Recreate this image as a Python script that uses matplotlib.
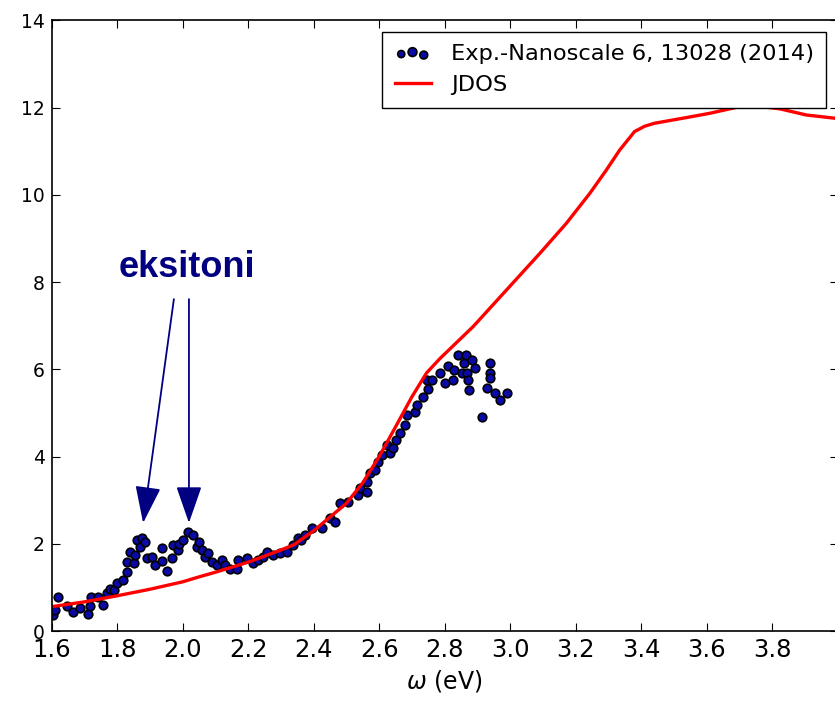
import matplotlib
matplotlib.use("Agg")
import matplotlib.pyplot as plt
from matplotlib.legend_handler import HandlerPathCollection

exp_x = [1.604, 1.61, 1.62, 1.647, 1.665, 1.686, 1.71, 1.717, 1.72, 1.74, 1.756, 1.768,
         1.778, 1.79, 1.80, 1.818, 1.83, 1.83, 1.84, 1.85, 1.855, 1.86, 1.87, 1.875,
         1.885, 1.89, 1.906, 1.916, 1.937, 1.937, 1.952, 1.967, 1.971, 1.986, 1.99,
         2.0, 2.017, 2.03, 2.044, 2.05, 2.058, 2.068, 2.078, 2.09, 2.105, 2.12, 2.13,
         2.145, 2.166, 2.17, 2.196, 2.215, 2.23, 2.245, 2.257, 2.276, 2.297, 2.318,
         2.337, 2.353, 2.36, 2.374, 2.395, 2.425, 2.45, 2.465, 2.48, 2.505, 2.536,
         2.54, 2.563, 2.563, 2.572, 2.587, 2.597, 2.608, 2.623, 2.633, 2.642, 2.65,
         2.663, 2.68, 2.685, 2.71, 2.716, 2.734, 2.75, 2.745, 2.762, 2.786, 2.8, 2.81,
         2.826, 2.83, 2.84, 2.852, 2.86, 2.865, 2.868, 2.872, 2.875, 2.883, 2.892,
         2.914, 2.93, 2.94, 2.94, 2.94, 2.954, 2.97, 2.99]
exp_y = [0.37, 0.48, 0.78, 0.57, 0.44, 0.53, 0.39, 0.57, 0.78, 0.78, 0.60, 0.87,
         0.96, 0.94, 1.10, 1.17, 1.35, 1.58, 1.81, 1.56, 1.74, 2.09, 1.93, 2.13,
         2.04, 1.67, 1.70, 1.51, 1.90, 1.60, 1.38, 1.67, 1.97, 1.86, 2.00,
         2.09, 2.27, 2.20, 1.93, 2.04, 1.86, 1.70, 1.79, 1.58, 1.51, 1.63, 1.51,
         1.42, 1.42, 1.63, 1.67, 1.56, 1.63, 1.70, 1.81, 1.74, 1.79, 1.81,
         1.97, 2.13, 2.09, 2.20, 2.36, 2.36, 2.59, 2.50, 2.93, 2.96, 3.12,
         3.28, 3.19, 3.42, 3.62, 3.69, 3.88, 4.04, 4.27, 4.08, 4.20, 4.38,
         4.54, 4.72, 4.95, 5.02, 5.18, 5.37, 5.55, 5.76, 5.76, 5.92, 5.69, 6.08,
         5.76, 5.99, 6.33, 5.92, 6.15, 6.33, 5.92, 5.76, 5.53, 6.22, 6.03,
         4.91, 5.57, 6.15, 5.92, 5.80, 5.46, 5.30, 5.46]

# JDOS curve
jdos_x = [1.6, 1.7, 1.8, 1.9, 2.0, 2.053, 2.1, 2.2, 2.3, 2.34, 2.4, 2.5, 2.55, 2.6,
          2.65, 2.7, 2.745, 2.786, 2.887, 2.989, 3.091, 3.172, 3.244, 3.294, 3.335,
          3.38, 3.41, 3.44, 3.53, 3.61, 3.70, 3.75, 3.825, 3.905, 4.0]
jdos_y = [0.56, 0.67, 0.81, 0.96, 1.13, 1.25, 1.35, 1.58, 1.86, 1.98, 2.30, 2.93,
          3.40, 4.00, 4.68, 5.37, 5.92, 6.25, 6.98, 7.82, 8.66, 9.35, 10.04, 10.57,
          11.03, 11.45, 11.57, 11.64, 11.76, 11.87, 12.02, 12.04, 11.97, 11.83, 11.75]

# exciton arrows: (tail, tip)
arrow_tails = [(1.973, 7.61), (2.019, 7.61)]
arrow_tips = [(1.879, 2.48), (2.019, 2.48)]

navy = "#000080"

fig = plt.figure(figsize=(8.35, 7.02), dpi=100)
ax = fig.add_axes([0.062, 0.101, 0.941, 0.870])

sc = ax.scatter(exp_x, exp_y, s=38, c="#0a0aa8", edgecolors="black",
                linewidths=1.2, label="Exp.-Nanoscale 6, 13028 (2014)")
ax.plot(jdos_x, jdos_y, color="red", lw=2.4, label="JDOS")

ax.set_xlim(1.6, 4.0)
ax.set_ylim(0, 14)
ax.set_xticks([1.6, 1.8, 2.0, 2.2, 2.4, 2.6, 2.8, 3.0, 3.2, 3.4, 3.6, 3.8])
ax.set_xticklabels(["1.6", "1.8", "2.0", "2.2", "2.4", "2.6", "2.8", "3.0",
                    "3.2", "3.4", "3.6", "3.8"])
ax.set_yticks([0, 2, 4, 6, 8, 10, 12, 14])
ax.tick_params(direction="in", top=True, right=True, length=6, width=0.8)
ax.tick_params(axis="x", labelsize=17.5, pad=5)
ax.tick_params(axis="y", labelsize=13.5, pad=5)
for sp in ax.spines.values():
    sp.set_linewidth(1.2)

ax.set_xlabel(r"$\omega$ (eV)", fontsize=17, labelpad=4)

leg = ax.legend(loc="upper right", fontsize=16.2, fancybox=False, framealpha=1,
                edgecolor="black", scatterpoints=3, handlelength=1.6,
                handletextpad=0.9, borderpad=0.55,
                handler_map={sc: HandlerPathCollection(sizes=[26, 40, 32])})
leg.get_frame().set_linewidth(1.0)

ax.text(2.014, 8.12, "eksitoni", color=navy, fontsize=26, fontweight="bold",
        family="Liberation Sans", ha="center", va="baseline")
for tail, tip in zip(arrow_tails, arrow_tips):
    ax.annotate("", xy=tip, xytext=tail,
                arrowprops=dict(arrowstyle="-|>,head_length=1.15,head_width=0.4",
                                color=navy, lw=1.3, shrinkA=0, shrinkB=0,
                                mutation_scale=20))

fig.savefig("out.png", dpi=100)
